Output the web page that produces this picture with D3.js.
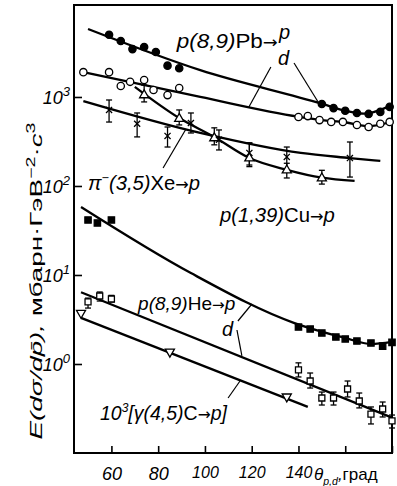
<!DOCTYPE html>
<html>
<head>
<meta charset="utf-8">
<script src="https://cdn.jsdelivr.net/npm/d3@7"></script>
<style>
  body { margin: 0; background: #fff; }
  svg { display: block; font-family: "Liberation Sans", Arial, sans-serif; }
</style>
</head>
<body>
<svg id="chart" width="397" height="486"></svg>
<script>
// ---- data (theta in degrees, E d3s/dp3) ----
var xTicks = [60, 80, 100, 120, 140, 160, 180];
var xTickLabels = ['60', '80', '100', '120', '140', '', ''];
var yTicks = [1, 10, 100, 1000];
var yTickExp = ['0', '1', '2', '3'];

// p(8,9)Pb -> p  (filled circles)
var pbpTheta = [59, 64, 69, 74, 79, 84, 89, 150, 155, 160, 165, 170, 175, 179];
var pbpVal = [5000, 4250, 3450, 3650, 3200, 2250, 2100, 835, 750, 700, 660, 645, 680, 775];
var pbpFitTheta = [50, 98, 150, 160, 168, 179];
var pbpFitVal = [5800, 2000, 840, 700, 650, 790];

// p(8,9)Pb -> d  (open circles)
var pbdTheta = [48, 59, 64, 68, 74, 78, 84, 89, 140, 144, 149, 154, 159, 165, 170, 175, 179];
var pbdVal = [1900, 1900, 1330, 1480, 1550, 1200, 1050, 1260, 595, 610, 550, 525, 525, 485, 460, 500, 525];
var pbdFitTheta = [48, 98, 140, 150, 160, 170, 179];
var pbdFitVal = [1900, 1000, 600, 550, 520, 470, 520];

// pi-(3,5)Xe -> p  (open triangles)
var xetTheta = [74, 89, 104, 119, 135, 150];
var xetVal = [1050, 570, 345, 205, 150, 122];
var xetLo = [880, 485, 290, 165, 123, 105];
var xetHi = [1360, 715, 450, 305, 180, 150];
var xetFitTheta = [70, 89, 104, 119, 135, 150, 164];
var xetFitVal = [1300, 580, 355, 206, 152, 124, 114];

// Xe, crosses
var xexTheta = [59, 71, 84, 94, 106, 119, 135, 162];
var xexVal = [715, 500, 365, 510, 330, 235, 212, 206];
var xexLo = [523, 356, 274, 394, 254, 172, 144, 126];
var xexHi = [925, 661, 460, 661, 426, 304, 274, 312];
var xexFitTheta = [48, 98, 141, 162, 175];
var xexFitVal = [900, 395, 235, 206, 191];

// p(1,39)Cu -> p  (filled squares)
var cuTheta = [50, 54, 60, 140, 145, 150, 156, 160, 165, 171, 176, 180];
var cuVal = [41.5, 38.4, 41.5, 2.6, 2.47, 2.23, 2.01, 1.91, 1.81, 1.72, 1.59, 1.75];
var cuFitTheta = [47, 94, 138, 160, 171, 180];
var cuFitVal = [58, 10.5, 2.9, 1.96, 1.68, 1.77];

// p(8,9)He -> p,d  (open squares)
var heTheta = [50, 55, 60, 140, 145, 150, 155, 161, 166, 171, 176, 180];
var heVal = [4.98, 5.81, 5.37, 0.857, 0.644, 0.415, 0.415, 0.524, 0.384, 0.274, 0.312, 0.229];
var heLo = [4.25, 5.1, 4.98, 0.715, 0.537, 0.346, 0.346, 0.426, 0.321, 0.212, 0.254, 0.191];
var heHi = [5.5, 6.44, 5.9, 1.03, 0.792, 0.484, 0.484, 0.644, 0.472, 0.329, 0.374, 0.267];
var heFitTheta = [47, 180];
var heFitVal = [6.4, 0.25];

// 10^3 [gamma(4,5)C -> p]  (open down-triangles)
var gcTheta = [47, 85, 135];
var gcVal = [3.74, 1.37, 0.43];
var gcFitTheta = [47, 144];
var gcFitVal = [3.3, 0.33];

var svg = d3.select('#chart');

var x = d3.scaleLinear().domain([44, 180]).range([74, 392]);
var y = d3.scaleLog().domain([0.1, 10800]).range([453, 5]);
var ly = v => y(Math.pow(10, v)); // position from log10 value

var zip = (a, b) => a.map((d, i) => [d, b[i]]);

// frame
svg.append('rect')
    .attr('x', x(44)).attr('y', y(10800))
    .attr('width', x(180) - x(44)).attr('height', y(0.1) - y(10800))
    .attr('fill', 'none').attr('stroke', '#000').attr('stroke-width', 2);

// x axis
var xAxis = svg.append('g')
    .attr('transform', `translate(0,${y(0.1)})`)
    .call(d3.axisBottom(x).tickValues(xTicks).tickSizeInner(-7).tickSizeOuter(0)
        .tickFormat((d, i) => xTickLabels[i]));
xAxis.select('.domain').remove();
xAxis.selectAll('line').attr('stroke-width', 1.6);
xAxis.selectAll('text')
    .attr('y', 14).attr('fill', '#000')
    .style('font-size', d => d >= 100 ? '16px' : '18px').style('font-style', 'italic')
    .style('font-family', '"Liberation Sans", Arial, sans-serif');
xAxis.selectAll('text').filter(d => d > 140).remove();

// y axis
var yAxis = svg.append('g')
    .attr('transform', `translate(${x(44)},0)`)
    .call(d3.axisLeft(y).tickValues(yTicks).tickSizeInner(-8).tickSizeOuter(0).tickFormat(''));
yAxis.select('.domain').remove();
yAxis.selectAll('line').attr('stroke-width', 1.6);
yAxis.selectAll('.tick').each(function (d, i) {
    var t = d3.select(this).append('text')
        .attr('x', -4).attr('y', 7)
        .attr('text-anchor', 'end').attr('fill', '#000')
        .style('font-size', '18px').style('font-style', 'italic')
        .style('font-family', '"Liberation Sans", Arial, sans-serif');
    t.append('tspan').text('10');
    t.append('tspan').attr('dy', -8).style('font-size', '13px').text(yTickExp[i]);
});

// rich text helper: parts = [[text, kind]] kind: i italic, n upright, a arrow, sup, sub
function rich(px, py, parts, size, len) {
    var t = svg.append('text')
        .attr('x', px).attr('y', py)
        .style('font-size', size + 'px').attr('fill', '#000');
    var shift = 0;
    parts.forEach(function (p) {
        var kind = p[1];
        var target = kind === 'sup' ? -0.42 * size : kind === 'sub' ? 0.3 * size : 0;
        var ts = t.append('tspan').text(p[0]).attr('dy', target - shift);
        shift = target;
        ts.style('font-style', (kind === 'n' || kind === 'a') ? 'normal' : 'italic');
        if (kind === 'a') ts.style('font-family', '"DejaVu Sans", sans-serif').style('font-size', (size * 0.8) + 'px');
        if (kind === 'sup' || kind === 'sub') ts.style('font-size', (size * 0.62) + 'px');
    });
    if (len) t.attr('textLength', len).attr('lengthAdjust', 'spacingAndGlyphs');
    return t;
}

// fitted curves
var line = d3.line().x(d => x(d[0])).y(d => y(d[1])).curve(d3.curveMonotoneX);
[[pbpFitTheta, pbpFitVal], [pbdFitTheta, pbdFitVal], [xetFitTheta, xetFitVal],
 [xexFitTheta, xexFitVal], [cuFitTheta, cuFitVal], [heFitTheta, heFitVal],
 [gcFitTheta, gcFitVal]].forEach(function (s) {
    svg.append('path')
        .datum(zip(s[0], s[1]))
        .attr('fill', 'none').attr('stroke', '#000').attr('stroke-width', 2.3)
        .attr('d', line);
});

// error bars
function errBars(th, lo, hi) {
    var g = svg.append('g').attr('stroke', '#000').attr('stroke-width', 1.3);
    th.forEach(function (t, i) {
        var cx = x(t);
        g.append('line').attr('x1', cx).attr('x2', cx).attr('y1', y(lo[i])).attr('y2', y(hi[i]));
        g.append('line').attr('x1', cx - 3).attr('x2', cx + 3).attr('y1', y(lo[i])).attr('y2', y(lo[i]));
        g.append('line').attr('x1', cx - 3).attr('x2', cx + 3).attr('y1', y(hi[i])).attr('y2', y(hi[i]));
    });
}
errBars(xetTheta, xetLo, xetHi);
errBars(xexTheta, xexLo, xexHi);
errBars(heTheta, heLo, heHi);

// markers
function markers(th, val, type, size, filled, rot) {
    svg.append('g').selectAll('path')
        .data(zip(th, val))
        .join('path')
        .attr('transform', d => `translate(${x(d[0])},${y(d[1])}) rotate(${rot || 0})`)
        .attr('d', d3.symbol().type(type).size(size))
        .attr('fill', filled ? '#000' : '#fff')
        .attr('stroke', '#000')
        .attr('stroke-width', 1.3);
}
markers(pbpTheta, pbpVal, d3.symbolCircle, 42, true);
markers(pbdTheta, pbdVal, d3.symbolCircle, 42, false);
markers(xetTheta, xetVal, d3.symbolTriangle, 36, false);
markers(xexTheta, xexVal, d3.symbolTimes, 26, false);
markers(cuTheta, cuVal, d3.symbolSquare, 40, true);
markers(heTheta, heVal, d3.symbolSquare, 36, false);
markers(gcTheta, gcVal, d3.symbolTriangle, 36, false, 180);

// labels (placed in data coordinates: theta, log10 value)
rich(x(88), ly(3.55), [['p(8,9)', 'i'], ['Pb', 'n'], ['→', 'a']], 20, 101);
rich(x(131.7), ly(3.651), [['p', 'i']], 20);
rich(x(131.2), ly(3.359), [['d', 'i']], 20);
rich(x(50), ly(1.955), [['π', 'i'], ['−', 'sup'], ['(3,5)', 'i'], ['Xe', 'n'], ['→', 'a'], ['p', 'i']], 20, 112);
rich(x(106.4), ly(1.595), [['p(1,39)', 'i'], ['Cu', 'n'], ['→', 'a'], ['p', 'i']], 20, 115);
rich(x(71.4), ly(0.607), [['p(8,9)', 'i'], ['He', 'n'], ['→', 'a'], ['p', 'i']], 19);
rich(x(107.3), ly(0.32), [['d', 'i']], 20);
rich(x(55.1), ly(-0.629), [['10', 'i'], ['3', 'sup'], ['[γ(4,5)', 'i'], ['C', 'n'], ['→', 'a'], ['p]', 'i']], 20, 127);

// leader lines
var leaders = [
    [[128.2, 3.337], [118.8, 2.887]],
    [[138.1, 3.382], [148.4, 2.943]],
    [[82.1, 2.202], [91.9, 2.640]],
    [[114.1, 0.483], [120.1, 0.674]],
    [[113.7, 0.382], [115.8, 0.090]],
    [[109.9, -0.382], [115.0, -0.191]]
];
svg.append('g').selectAll('line')
    .data(leaders)
    .join('line')
    .attr('x1', d => x(d[0][0])).attr('y1', d => ly(d[0][1]))
    .attr('x2', d => x(d[1][0])).attr('y2', d => ly(d[1][1]))
    .attr('stroke', '#000').attr('stroke-width', 1.2);

// axis titles
var yt = svg.append('text')
    .attr('transform', `translate(42,281) rotate(-90)`)
    .attr('text-anchor', 'middle')
    .style('font-size', '17px').attr('fill', '#000');
[['E', 'i', 0], ['(dσ/dp̄), ', 'i', 0], ['мбарн·ГэВ', 'n', 0], ['−2', 'n', -7], ['·', 'n', 7], ['с', 'i', 0], ['3', 'n', -7]]
    .forEach(function (p) {
        var ts = yt.append('tspan').text(p[0]).attr('dy', p[2])
            .style('font-style', p[1] === 'i' ? 'italic' : 'normal');
        if (p[2] < 0) ts.style('font-size', '12px');
    });
yt.attr('textLength', 317).attr('lengthAdjust', 'spacingAndGlyphs');

rich(314, 480, [['θ', 'i'], ['p,d', 'sub'], [',', 'i'], ['град', 'n']], 17);
</script>
</body>
</html>
